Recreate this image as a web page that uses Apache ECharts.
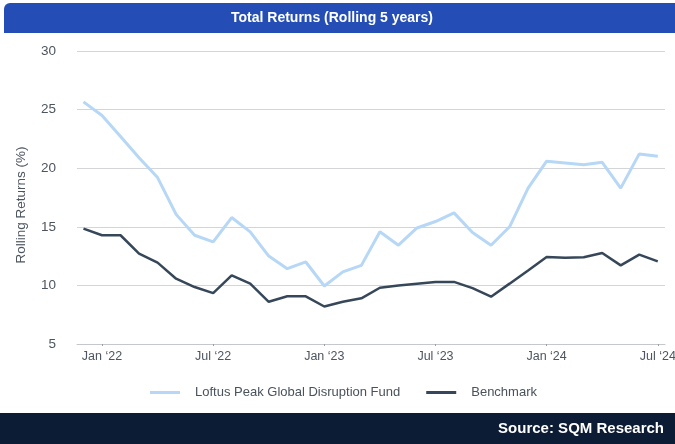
<!DOCTYPE html>
<html>
<head>
<meta charset="utf-8">
<script src="https://cdn.jsdelivr.net/npm/echarts@6/dist/echarts.min.js"></script>
<style>
  html, body { margin: 0; padding: 0; background: #fff; }
  #chart { width: 675px; height: 444px; }
</style>
</head>
<body>
<div id="chart"></div>
<script>
// monthly points, Dec 2021 .. Jul 2024
const months = [
  'Dec 2021', 'Jan 2022', 'Feb 2022', 'Mar 2022', 'Apr 2022', 'May 2022', 'Jun 2022',
  'Jul 2022', 'Aug 2022', 'Sep 2022', 'Oct 2022', 'Nov 2022', 'Dec 2022',
  'Jan 2023', 'Feb 2023', 'Mar 2023', 'Apr 2023', 'May 2023', 'Jun 2023',
  'Jul 2023', 'Aug 2023', 'Sep 2023', 'Oct 2023', 'Nov 2023', 'Dec 2023',
  'Jan 2024', 'Feb 2024', 'Mar 2024', 'Apr 2024', 'May 2024', 'Jun 2024', 'Jul 2024'
];

const fundValues = [
  25.66, 24.49, 22.7, 20.9, 19.2, 16.06, 14.28,
  13.72, 15.79, 14.57, 12.5, 11.43, 12.0,
  9.95, 11.15, 11.71, 14.57, 13.43, 14.9,
  15.45, 16.19, 14.51, 13.43, 15.0, 18.3,
  20.6, 20.45, 20.3, 20.5, 18.3, 21.22, 21.02
];

const benchmarkValues = [
  14.85, 14.28, 14.28, 12.71, 11.94, 10.57, 9.86,
  9.34, 10.86, 10.15, 8.6, 9.07, 9.07,
  8.2, 8.6, 8.9, 9.8, 10.0, 10.15,
  10.3, 10.3, 9.77, 9.04, 10.15, 11.28,
  12.43, 12.35, 12.4, 12.77, 11.71, 12.63, 12.05
];

const tickIndex = [1, 7, 13, 19, 25, 31];
const tickLabels = ['Jan \u201822', 'Jul \u201822', 'Jan \u201823', 'Jul \u201823', 'Jan \u201824', 'Jul \u201824'];

const seriesNames = ['Loftus Peak Global Disruption Fund', 'Benchmark'];

const toPoints = (vals) => vals.map((v, i) => [i, v]);

const font = 'Liberation Sans, Arial, Helvetica, sans-serif';

const chart = echarts.init(document.getElementById('chart'));

const option = {
  animation: false,
  textStyle: { fontFamily: font },
  grid: {
    left: 77,
    right: 10,
    top: 51,
    bottom: 100,
    outerBoundsMode: 'none'
  },
  graphic: [
    {
      type: 'rect',
      shape: { x: 4, y: 3, width: 680, height: 30, r: [6, 0, 0, 0] },
      style: { fill: '#244EB5' },
      silent: true
    },
    {
      type: 'text',
      x: 332,
      y: 18,
      style: {
        text: 'Total Returns (Rolling 5 years)',
        fill: '#fff',
        font: 'bold 14px ' + font,
        textAlign: 'center',
        textVerticalAlign: 'middle'
      },
      silent: true
    },
    {
      // y axis title
      type: 'text',
      x: 21,
      y: 205,
      rotation: Math.PI / 2,
      style: {
        text: 'Rolling Returns (%)',
        fill: '#4d5560',
        font: '13.5px ' + font,
        textAlign: 'center',
        textVerticalAlign: 'middle'
      },
      silent: true
    },
    {
      type: 'rect',
      shape: { x: 0, y: 413, width: 675, height: 31 },
      style: { fill: '#0D1C35' },
      silent: true
    },
    {
      type: 'text',
      x: 664,
      y: 429,
      style: {
        text: 'Source: SQM Research',
        fill: '#fff',
        font: 'bold 15px ' + font,
        textAlign: 'right',
        textVerticalAlign: 'middle'
      },
      silent: true
    }
  ],
  legend: {
    left: 145,
    top: 381,
    icon: 'rect',
    itemWidth: 30,
    itemHeight: 3,
    itemGap: 26,
    textStyle: {
      color: '#4a525c',
      fontSize: 13,
      padding: [0, 0, 0, 10]
    },
    data: seriesNames
  },
  xAxis: {
    type: 'value',
    min: -0.35,
    max: 31.39,
    splitLine: { show: false },
    axisLine: { show: true, lineStyle: { color: '#c4c7cc', width: 1 } },
    axisTick: {
      show: true,
      length: 2,
      customValues: tickIndex,
      lineStyle: { color: '#9aa0a6' }
    },
    axisLabel: {
      customValues: tickIndex,
      color: '#4d5560',
      fontSize: 12.5,
      margin: 6,
      hideOverlap: false,
      formatter: (v) => tickLabels[tickIndex.indexOf(Math.round(v))] || ''
    }
  },
  yAxis: {
    type: 'value',
    min: 5,
    max: 30,
    interval: 5,
    axisLine: { show: false },
    axisTick: { show: false },
    axisLabel: { color: '#4d5560', fontSize: 13.5, margin: 21 },
    splitLine: { lineStyle: { color: '#d3d5d8', width: 1 } }
  },
  series: [
    {
      name: seriesNames[0],
      type: 'line',
      data: toPoints(fundValues),
      showSymbol: false,
      color: '#B6D7F6',
      lineStyle: { width: 3, color: '#B6D7F6' }
    },
    {
      name: seriesNames[1],
      type: 'line',
      data: toPoints(benchmarkValues),
      showSymbol: false,
      color: '#36475A',
      lineStyle: { width: 2.5, color: '#36475A' }
    }
  ]
};

chart.setOption(option);
</script>
</body>
</html>
